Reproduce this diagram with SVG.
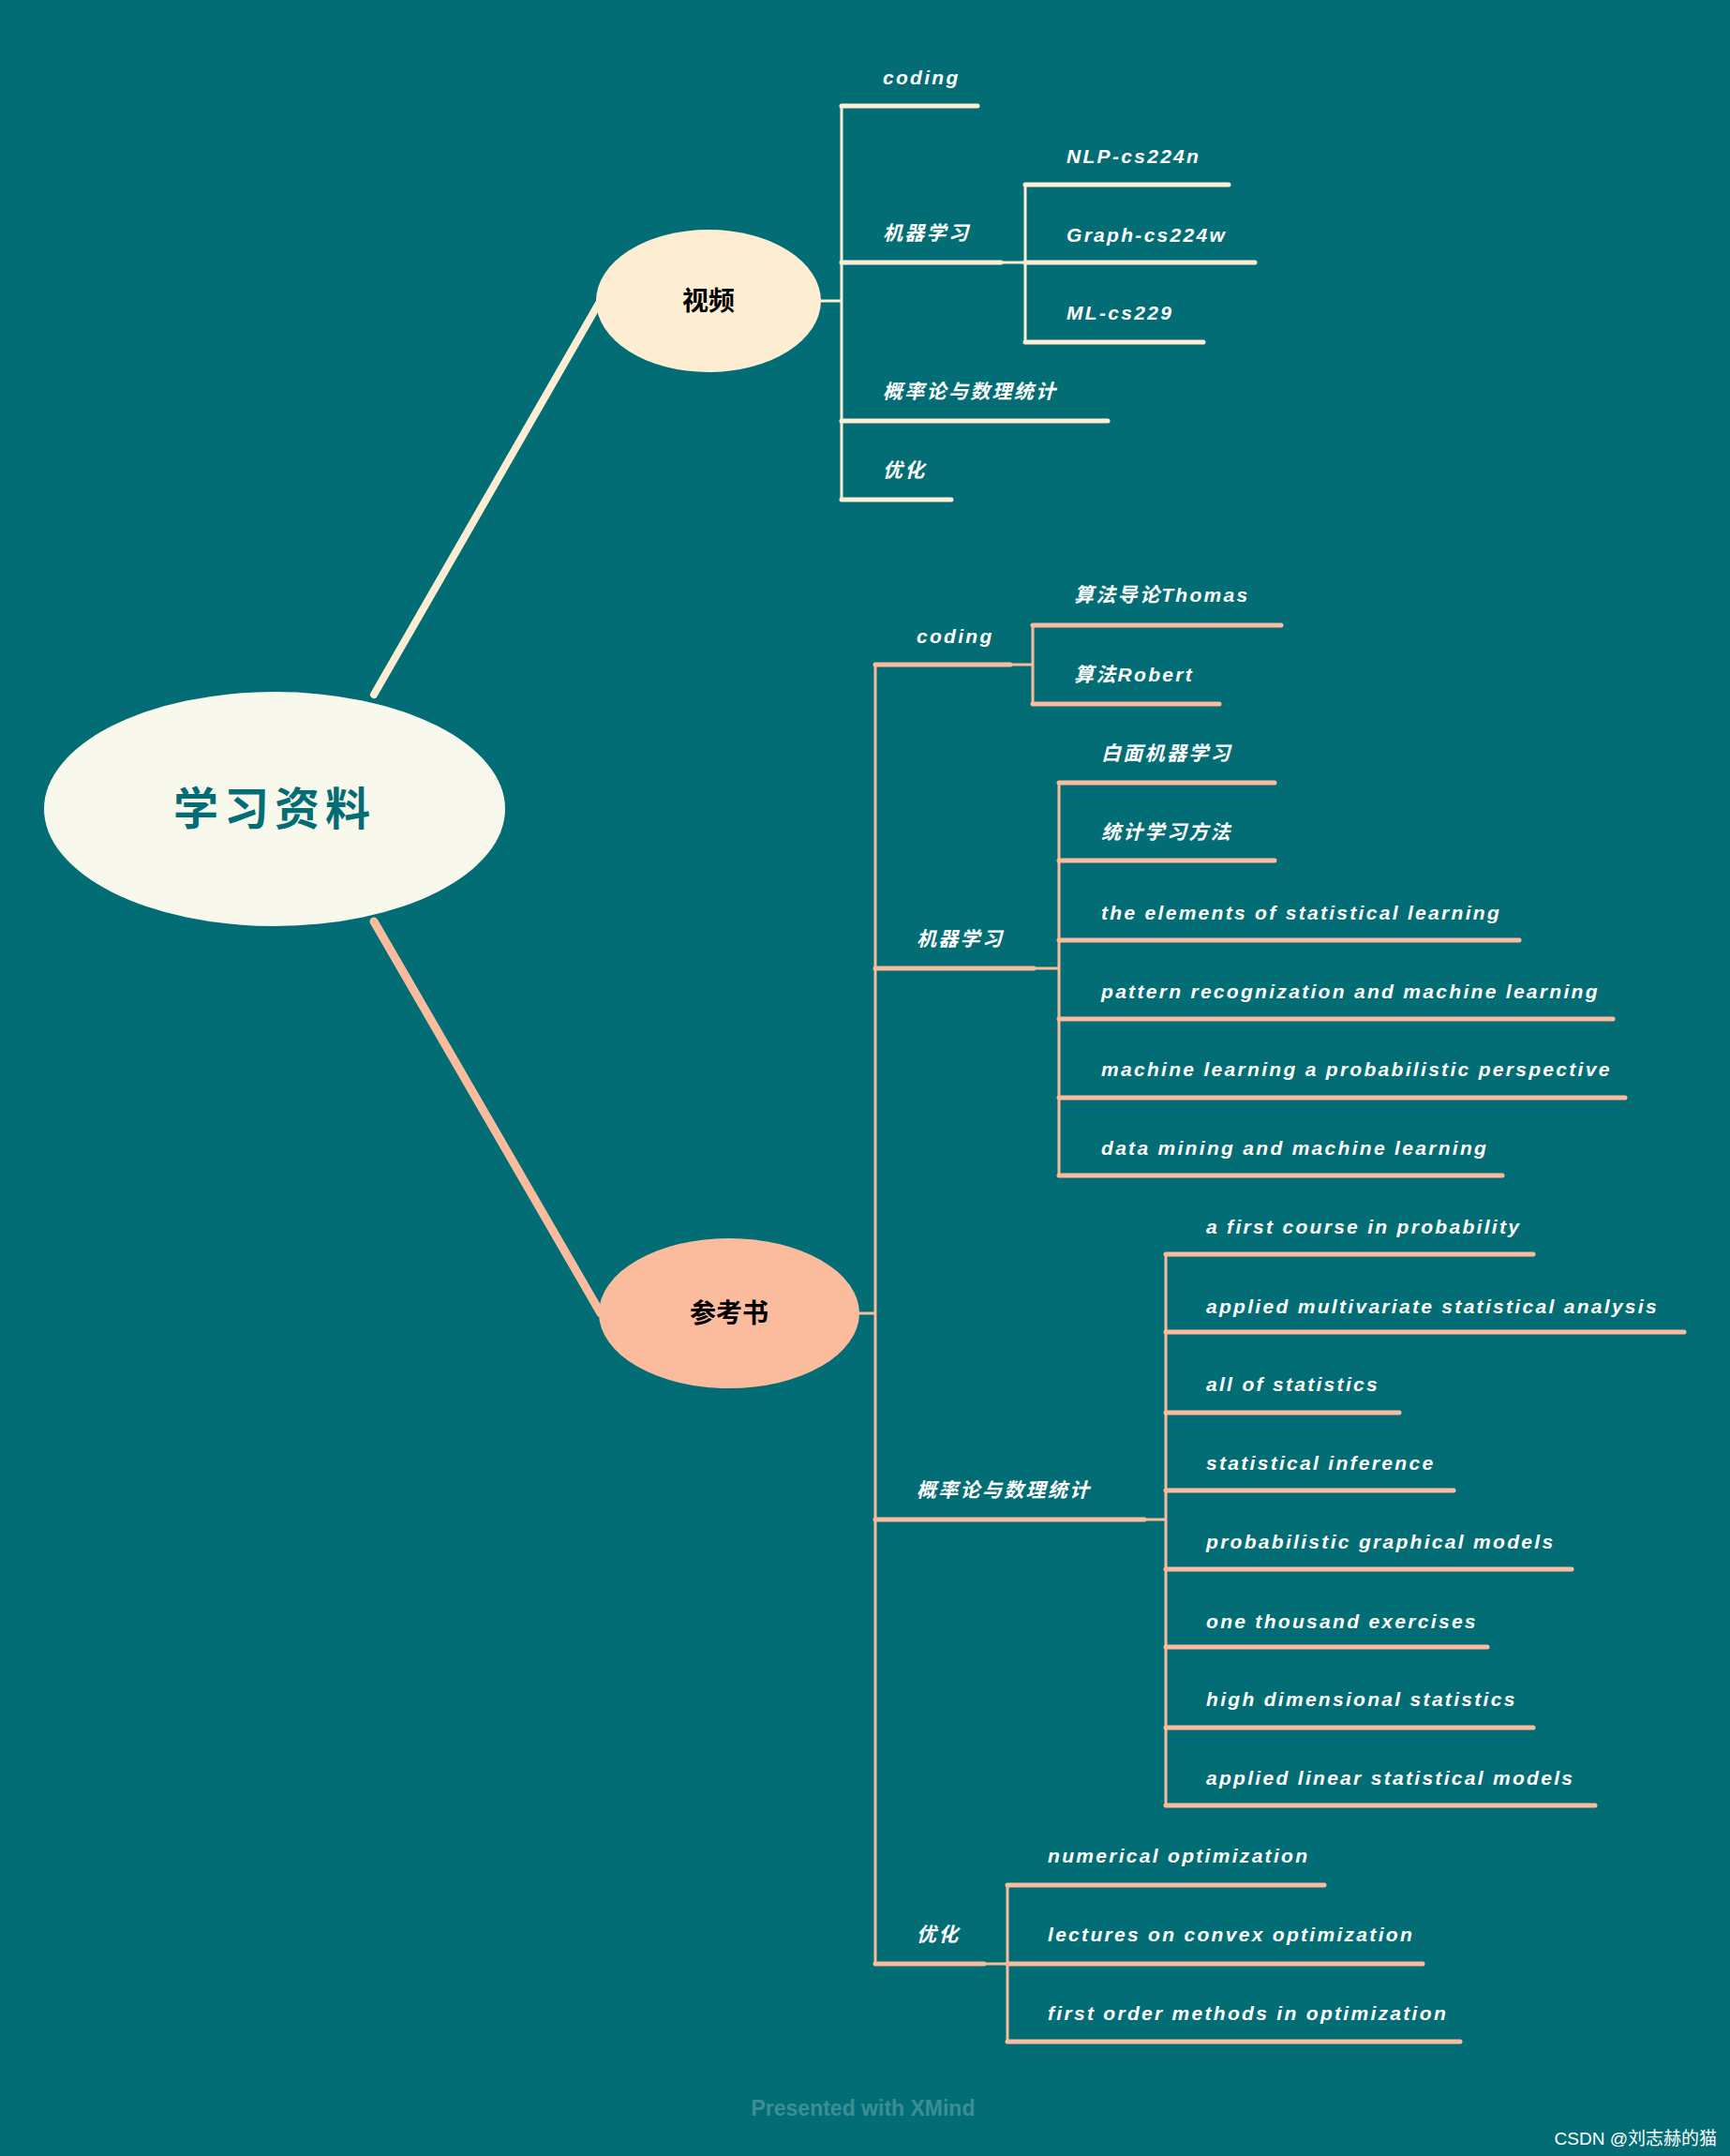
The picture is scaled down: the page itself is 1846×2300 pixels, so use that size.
<svg xmlns="http://www.w3.org/2000/svg" width="1846" height="2300" viewBox="0 0 1846 2300">
<style>
.t{font-family:"Liberation Sans","Noto Sans CJK SC",sans-serif;font-style:italic;font-weight:bold;font-size:21px;fill:#ffffff;letter-spacing:2.3px}
.a{stroke:#fdedd3;fill:none;stroke-linecap:round}
.b{stroke:#fbbc9e;fill:none;stroke-linecap:round}
.v{stroke-width:3}
.u{stroke-width:5}
</style>
<rect width="1846" height="2300" fill="#036d75"/>
<g id="connectors">
<path class="a" stroke-width="8" d="M399,741 L641,320"/>
<path class="b" stroke-width="9" d="M399,983 L641,1401"/>
<path class="a v" d="M876,321 H898 M898,113 V533 M1068,280 H1094 M1094,197 V365"/>
<path class="a u" d="M898,113 H1043 M898,280 H1068 M898,449 H1182 M898,533 H1015 M1094,197 H1311 M1094,280 H1339 M1094,365 H1284"/>
<path class="b v" d="M917,1401 H934 M934,709 V2095 M1078,709 H1102 M1102,667 V751 M1103,1033 H1130 M1130,835 V1254 M1221,1621 H1244 M1244,1338 V1926 M1050,2095 H1075 M1075,2011 V2178"/>
<path class="b u" d="M934,709 H1078 M1102,667 H1367 M1102,751 H1301 M934,1033 H1103 M1130,835 H1360 M1130,918 H1360 M1130,1003 H1621 M1130,1087 H1721 M1130,1171 H1734 M1130,1254 H1603 M934,1621 H1221 M1244,1338 H1636 M1244,1421 H1797 M1244,1507 H1493 M1244,1590 H1551 M1244,1674 H1677 M1244,1757 H1587 M1244,1843 H1636 M1244,1926 H1702 M934,2095 H1050 M1075,2011 H1413 M1075,2095 H1518 M1075,2178 H1558"/>
</g>
<g id="root"><ellipse cx="293" cy="863" rx="246" ry="125" fill="#f9f8ec"/><text x="293" y="880" text-anchor="middle" font-family="Noto Sans CJK SC,sans-serif" font-weight="bold" font-size="48" fill="#036d75" letter-spacing="6">学习资料</text></g>
<g id="video"><ellipse cx="756" cy="321" rx="120" ry="76" fill="#fdedd3"/><text x="756" y="331" text-anchor="middle" font-family="Noto Sans CJK SC,sans-serif" font-weight="bold" font-size="28" fill="#000">视频</text></g>
<g id="books"><ellipse cx="778" cy="1401" rx="139" ry="80" fill="#fbbc9e"/><text x="778" y="1411" text-anchor="middle" font-family="Noto Sans CJK SC,sans-serif" font-weight="bold" font-size="28" fill="#000">参考书</text></g>
<g id="labels">
<text class="t" x="942" y="90">coding</text>
<text class="t" x="942" y="256">机器学习</text>
<text class="t" x="942" y="425">概率论与数理统计</text>
<text class="t" x="942" y="509">优化</text>
<text class="t" x="1138" y="174">NLP-cs224n</text>
<text class="t" x="1138" y="258">Graph-cs224w</text>
<text class="t" x="1138" y="341">ML-cs229</text>
<text class="t" x="978" y="686">coding</text>
<text class="t" x="1146" y="642">算法导论Thomas</text>
<text class="t" x="1146" y="727">算法Robert</text>
<text class="t" x="978" y="1009">机器学习</text>
<text class="t" x="1175" y="811">白面机器学习</text>
<text class="t" x="1175" y="895">统计学习方法</text>
<text class="t" x="1175" y="981">the elements of statistical learning</text>
<text class="t" x="1175" y="1065">pattern recognization and machine learning</text>
<text class="t" x="1175" y="1148">machine learning a probabilistic perspective</text>
<text class="t" x="1175" y="1232">data mining and machine learning</text>
<text class="t" x="978" y="1597">概率论与数理统计</text>
<text class="t" x="1287" y="1316">a first course in probability</text>
<text class="t" x="1287" y="1401">applied multivariate statistical analysis</text>
<text class="t" x="1287" y="1484">all of statistics</text>
<text class="t" x="1287" y="1568">statistical inference</text>
<text class="t" x="1287" y="1652">probabilistic graphical models</text>
<text class="t" x="1287" y="1737">one thousand exercises</text>
<text class="t" x="1287" y="1820">high dimensional statistics</text>
<text class="t" x="1287" y="1904">applied linear statistical models</text>
<text class="t" x="978" y="2071">优化</text>
<text class="t" x="1118" y="1987">numerical optimization</text>
<text class="t" x="1118" y="2071">lectures on convex optimization</text>
<text class="t" x="1118" y="2155">first order methods in optimization</text>
</g>
<text x="921" y="2257" text-anchor="middle" font-family="Liberation Sans,sans-serif" font-weight="bold" font-size="23" fill="#3a8f95">Presented with XMind</text>
<text x="1832" y="2288" text-anchor="end" font-family="Liberation Sans,Noto Sans CJK SC,sans-serif" font-size="19" fill="#ffffff">CSDN @刘志赫的猫</text>
</svg>
